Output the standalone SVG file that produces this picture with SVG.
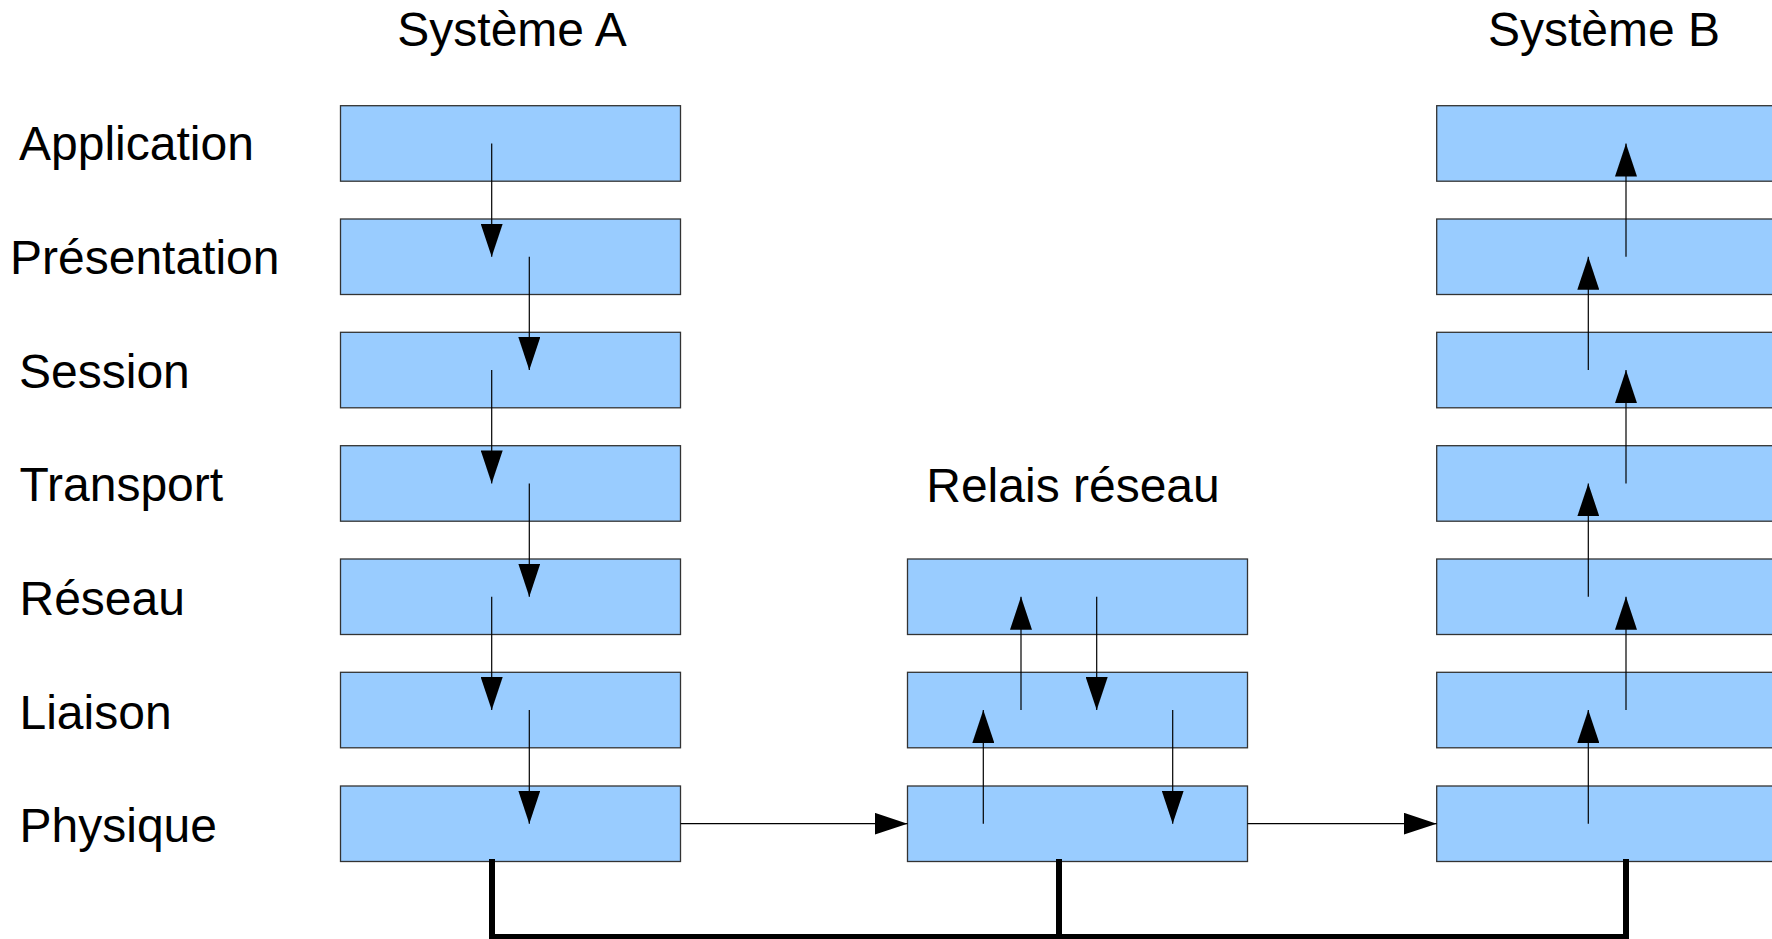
<svg xmlns="http://www.w3.org/2000/svg" width="1772" height="939" viewBox="0 0 1772 939">
<style>
.layer{fill:#99ccff;stroke:#333333;stroke-width:1.3}
.lbl{font-family:"Liberation Sans",Arial,sans-serif;font-size:48px;fill:#000}
.ctr{text-anchor:middle}
.arr{stroke:#000;stroke-width:1.2;fill:none;marker-end:url(#ah)}
.bus{stroke:#000;stroke-width:6;fill:none;stroke-linejoin:miter;stroke-linecap:square}
</style>
<defs>
<marker id="ah" markerUnits="userSpaceOnUse" markerWidth="33" markerHeight="22" refX="33" refY="11" orient="auto" viewBox="0 0 33 22">
<path d="M0,0 L33,11 L0,22 Z" fill="#000"/>
</marker>
</defs>
<rect width="1772" height="939" fill="#fff"/>
<g id="titles">
<text class="lbl ctr" x="512" y="46">Système A</text>
<text class="lbl ctr" x="1604" y="46">Système B</text>
<text class="lbl ctr" x="1073" y="502">Relais réseau</text>
</g>
<g id="layer-labels">
<text class="lbl" x="19" y="160">Application</text>
<text class="lbl" x="10" y="274">Présentation</text>
<text class="lbl" x="19" y="388">Session</text>
<text class="lbl" x="19.5" y="501">Transport</text>
<text class="lbl" x="19.5" y="615">Réseau</text>
<text class="lbl" x="19.5" y="728.5">Liaison</text>
<text class="lbl" x="19.5" y="842">Physique</text>
</g>
<g id="systeme-a">
<rect id="a-application" class="layer" x="340.5" y="105.7" width="340" height="75.5"/>
<rect id="a-presentation" class="layer" x="340.5" y="219" width="340" height="75.5"/>
<rect id="a-session" class="layer" x="340.5" y="332.3" width="340" height="75.5"/>
<rect id="a-transport" class="layer" x="340.5" y="445.7" width="340" height="75.5"/>
<rect id="a-reseau" class="layer" x="340.5" y="559" width="340" height="75.5"/>
<rect id="a-liaison" class="layer" x="340.5" y="672.3" width="340" height="75.5"/>
<rect id="a-physique" class="layer" x="340.5" y="786" width="340" height="75.5"/>
</g>
<g id="relais">
<rect id="r-reseau" class="layer" x="907.5" y="559" width="340" height="75.5"/>
<rect id="r-liaison" class="layer" x="907.5" y="672.3" width="340" height="75.5"/>
<rect id="r-physique" class="layer" x="907.5" y="786" width="340" height="75.5"/>
</g>
<g id="systeme-b">
<rect id="b-application" class="layer" x="1436.7" y="105.7" width="345" height="75.5"/>
<rect id="b-presentation" class="layer" x="1436.7" y="219" width="345" height="75.5"/>
<rect id="b-session" class="layer" x="1436.7" y="332.3" width="345" height="75.5"/>
<rect id="b-transport" class="layer" x="1436.7" y="445.7" width="345" height="75.5"/>
<rect id="b-reseau" class="layer" x="1436.7" y="559" width="345" height="75.5"/>
<rect id="b-liaison" class="layer" x="1436.7" y="672.3" width="345" height="75.5"/>
<rect id="b-physique" class="layer" x="1436.7" y="786" width="345" height="75.5"/>
</g>
<g id="connectors">
<line class="arr" x1="491.7" y1="143.5" x2="491.7" y2="256.8"/>
<line class="arr" x1="529.3" y1="256.8" x2="529.3" y2="370.1"/>
<line class="arr" x1="491.7" y1="370.1" x2="491.7" y2="483.4"/>
<line class="arr" x1="529.3" y1="483.4" x2="529.3" y2="596.7"/>
<line class="arr" x1="491.7" y1="596.7" x2="491.7" y2="710"/>
<line class="arr" x1="529.3" y1="710" x2="529.3" y2="823.7"/>
<line class="arr" x1="680.5" y1="823.7" x2="907.5" y2="823.7"/>
<line class="arr" x1="983.3" y1="823.7" x2="983.3" y2="710"/>
<line class="arr" x1="1021" y1="710" x2="1021" y2="596.7"/>
<line class="arr" x1="1096.7" y1="596.7" x2="1096.7" y2="710"/>
<line class="arr" x1="1172.7" y1="710" x2="1172.7" y2="823.7"/>
<line class="arr" x1="1247.5" y1="823.7" x2="1436.7" y2="823.7"/>
<line class="arr" x1="1588.3" y1="823.7" x2="1588.3" y2="710"/>
<line class="arr" x1="1626" y1="710" x2="1626" y2="596.7"/>
<line class="arr" x1="1588.3" y1="596.7" x2="1588.3" y2="483.4"/>
<line class="arr" x1="1626" y1="483.4" x2="1626" y2="370.1"/>
<line class="arr" x1="1588.3" y1="370.1" x2="1588.3" y2="256.8"/>
<line class="arr" x1="1626" y1="256.8" x2="1626" y2="143.5"/>
<path id="bus" class="bus" d="M492,862 L492,937 L1626,937 L1626,862 M1059,862 L1059,937"/>
</g>
</svg>
